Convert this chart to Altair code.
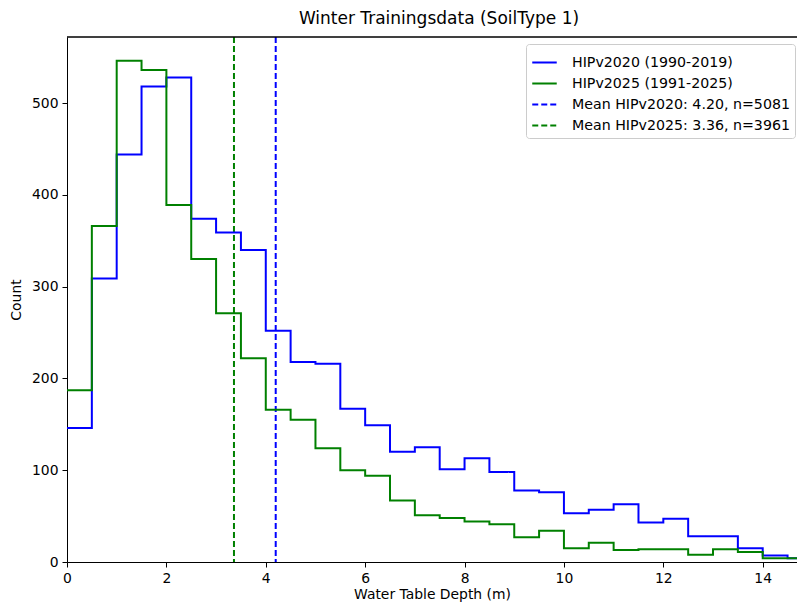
import altair as alt
import pandas as pd

# bin edges: 0, 0.5, ..., 14.5 (bin width 0.5)
bin_width = 0.5
hip2020_counts = [146, 309, 444, 518, 528, 374, 359, 340, 252, 218,
                  216, 167, 149, 120, 125, 101, 113, 98, 78, 76,
                  53, 57, 63, 43, 47, 28, 28, 15, 7, 4]
hip2025_counts = [187, 366, 546, 536, 389, 330, 271, 222, 166, 155,
                  124, 100, 94, 67, 51, 48, 44, 41, 27, 34,
                  15, 21, 13, 14, 14, 8, 14, 11, 4, 4]
series_names = ["HIPv2020 (1990-2019)", "HIPv2025 (1991-2025)",
                "Mean HIPv2020: 4.20, n=5081", "Mean HIPv2025: 3.36, n=3961"]
mean_values = [4.20, 3.36]
colors = ["#0000ff", "#008000", "#0000ff", "#008000"]

rows = []
for name, counts in [(series_names[0], hip2020_counts), (series_names[1], hip2025_counts)]:
    for i, c in enumerate(counts):
        rows.append({"x": i * bin_width, "count": c, "series": name})
    rows.append({"x": len(counts) * bin_width, "count": counts[-1], "series": name})
hist_df = pd.DataFrame(rows)
mean_df = pd.DataFrame({"x": mean_values, "series": series_names[2:]})

font = "DejaVu Sans"
fs = 13.9
x_scale = alt.Scale(domain=[0, 14.69], nice=False, zero=False)
y_scale = alt.Scale(domain=[0, 572], nice=False)

color_enc = alt.Color("series:N", scale=alt.Scale(domain=series_names, range=colors),
                      legend=alt.Legend(title=None, orient="none", legendX=459, legendY=7,
                                        symbolType="stroke", symbolSize=600, symbolStrokeWidth=2,
                                        labelFont=font, labelFontSize=14.2, labelColor="black",
                                        fillColor="white", strokeColor="#cccccc", cornerRadius=3,
                                        padding=5, rowPadding=0, labelOffset=14, labelLimit=400))
dash_enc = alt.StrokeDash("series:N", scale=alt.Scale(domain=series_names,
                                                      range=[[1, 0], [1, 0], [6, 3], [6, 3]]),
                          legend=None)

steps = alt.Chart(hist_df).mark_line(interpolate="step-after", strokeWidth=2, clip=True).encode(
    x=alt.X("x:Q", scale=x_scale, title="Water Table Depth (m)",
            axis=alt.Axis(values=list(range(0, 15, 2)), grid=False, tickSize=5,
                          labelPadding=4, labelFont=font, labelFontSize=fs,
                          labelColor="black", titleFont=font, titleFontSize=fs,
                          titleFontWeight="normal", titleColor="black", titlePadding=3,
                          domainColor="black", tickColor="black", labelFlush=False)),
    y=alt.Y("count:Q", scale=y_scale, title="Count",
            axis=alt.Axis(values=list(range(0, 501, 100)), grid=False, tickSize=5,
                          labelPadding=4, labelFont=font, labelFontSize=fs,
                          labelColor="black", titleFont=font, titleFontSize=fs,
                          titleFontWeight="normal", titleColor="black", titlePadding=8,
                          domainColor="black", tickColor="black")),
    color=color_enc,
    strokeDash=dash_enc,
    order=alt.Order("x:Q"),
)

means = alt.Chart(mean_df).mark_rule(strokeWidth=2).encode(
    x=alt.X("x:Q", scale=x_scale),
    color=color_enc,
    strokeDash=dash_enc,
)

top_border = alt.Chart(mean_df).mark_rule(color="black", strokeWidth=1).encode(
    x=alt.value(0), x2=alt.value(730), y=alt.value(0)
)

chart = alt.layer(means, steps, top_border).properties(
    width=730, height=525,
    title=alt.TitleParams("Winter Trainingsdata (SoilType 1)", font=font, fontSize=17,
                          fontWeight="normal", color="black", offset=8, anchor="middle", dx=7),
    autosize=alt.AutoSizeParams(type="none"),
    padding={"left": 59, "top": 29, "right": 0, "bottom": 45},
).configure_view(stroke=None)

chart.save("out.html", embed_options={"renderer": "svg", "actions": False})
